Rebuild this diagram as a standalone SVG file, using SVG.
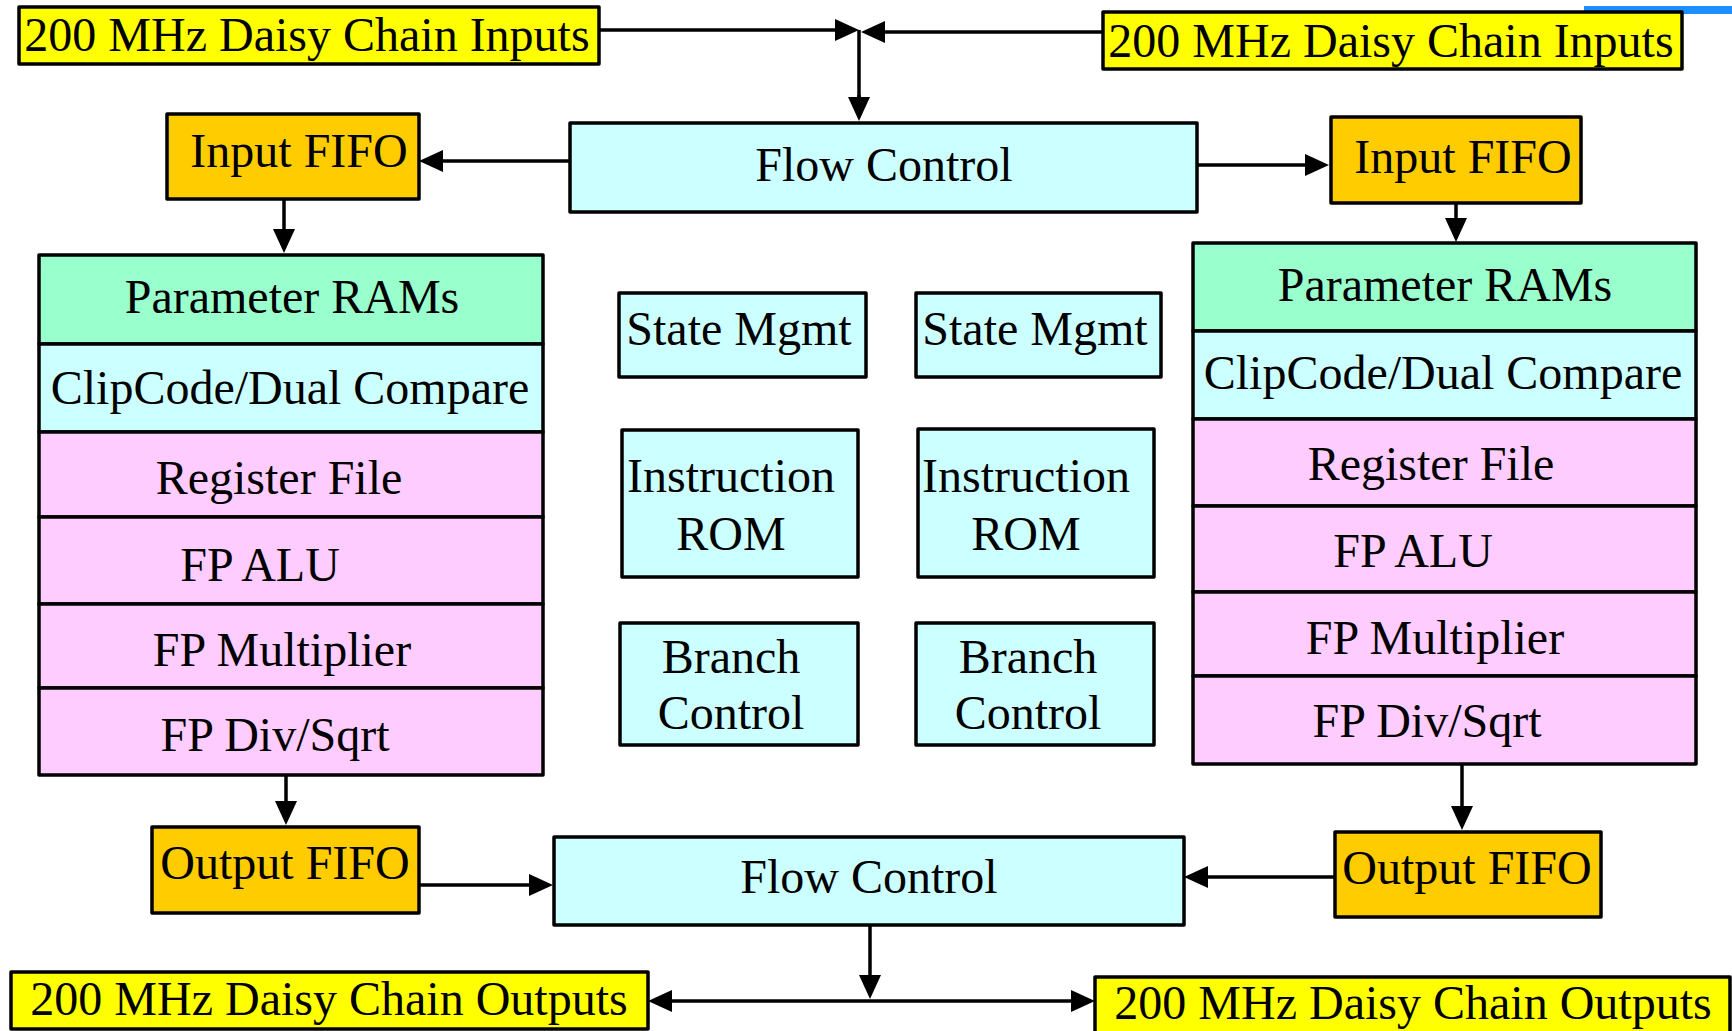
<svg xmlns="http://www.w3.org/2000/svg" width="1732" height="1031" viewBox="0 0 1732 1031">
<style>
  .box { stroke: #000; stroke-width: 3.5; stroke-linejoin: round; }
  .yellow { fill: #FFFF00; }
  .orange { fill: #FFCC00; }
  .cyan { fill: #CCFFFF; }
  .green { fill: #99FFCC; }
  .pink { fill: #FFCCFF; }
  text { font-family: "Liberation Serif", "Times New Roman", serif; font-size: 48px; fill: #000; text-anchor: middle; }
  .conn line { stroke: #000; stroke-width: 3.5; marker-end: url(#arrow); }
  .conn line.plain { marker-end: none; }
</style>
<defs>
  <marker id="arrow" viewBox="0 0 24 22" refX="20" refY="11" markerWidth="24" markerHeight="22" markerUnits="userSpaceOnUse" orient="auto">
    <path d="M0,0 L24,11 L0,22 Z" fill="#000"/>
  </marker>
</defs>
<rect width="1732" height="1031" fill="#fff"/>
<rect id="blue-strip" x="1584" y="6" width="148" height="8" fill="#1E8FFF"/>

<g id="in_left"><rect class="box yellow" x="19" y="7" width="580" height="57"/><text x="307" y="51">200 MHz Daisy Chain Inputs</text></g>
<g id="in_right"><rect class="box yellow" x="1103" y="12" width="579" height="57"/><text x="1391" y="57">200 MHz Daisy Chain Inputs</text></g>

<g id="flow_top"><rect class="box cyan" x="570" y="123" width="627" height="89"/><text x="884" y="181">Flow Control</text></g>
<g id="ififo_left"><rect class="box orange" x="167" y="114" width="252" height="85"/><text x="299" y="167">Input FIFO</text></g>
<g id="ififo_right"><rect class="box orange" x="1331" y="117" width="250" height="86"/><text x="1463" y="173">Input FIFO</text></g>

<g id="stack_left">
  <rect class="box green" x="39" y="255" width="504" height="89"/><text x="292" y="313">Parameter RAMs</text>
  <rect class="box cyan" x="39" y="344" width="504" height="88"/><text x="290" y="404">ClipCode/Dual Compare</text>
  <rect class="box pink" x="39" y="432" width="504" height="85"/><text x="279" y="494">Register File</text>
  <rect class="box pink" x="39" y="517" width="504" height="87"/><text x="260" y="581">FP ALU</text>
  <rect class="box pink" x="39" y="604" width="504" height="84"/><text x="282" y="666">FP Multiplier</text>
  <rect class="box pink" x="39" y="688" width="504" height="87"/><text x="275" y="751">FP Div/Sqrt</text>
</g>
<g id="stack_right">
  <rect class="box green" x="1193" y="243" width="503" height="88"/><text x="1445" y="301">Parameter RAMs</text>
  <rect class="box cyan" x="1193" y="331" width="503" height="88"/><text x="1443" y="389">ClipCode/Dual Compare</text>
  <rect class="box pink" x="1193" y="419" width="503" height="87"/><text x="1431" y="480">Register File</text>
  <rect class="box pink" x="1193" y="506" width="503" height="86"/><text x="1413" y="567">FP ALU</text>
  <rect class="box pink" x="1193" y="592" width="503" height="84"/><text x="1435" y="654">FP Multiplier</text>
  <rect class="box pink" x="1193" y="676" width="503" height="88"/><text x="1427" y="737">FP Div/Sqrt</text>
</g>

<g id="state_mgmt_1"><rect class="box cyan" x="619" y="293" width="247" height="84"/><text x="739" y="345">State Mgmt</text></g>
<g id="state_mgmt_2"><rect class="box cyan" x="916" y="293" width="245" height="84"/><text x="1035" y="345">State Mgmt</text></g>
<g id="instr_rom_1"><rect class="box cyan" x="622" y="430" width="236" height="147"/><text x="731" y="492">Instruction</text><text x="731" y="550">ROM</text></g>
<g id="instr_rom_2"><rect class="box cyan" x="918" y="429" width="236" height="148"/><text x="1026" y="492">Instruction</text><text x="1026" y="550">ROM</text></g>
<g id="branch_1"><rect class="box cyan" x="620" y="623" width="238" height="122"/><text x="731" y="673">Branch</text><text x="731" y="729">Control</text></g>
<g id="branch_2"><rect class="box cyan" x="916" y="623" width="238" height="122"/><text x="1028" y="673">Branch</text><text x="1028" y="729">Control</text></g>

<g id="ofifo_left"><rect class="box orange" x="152" y="827" width="267" height="86"/><text x="285" y="879">Output FIFO</text></g>
<g id="ofifo_right"><rect class="box orange" x="1335" y="832" width="266" height="85"/><text x="1467" y="884">Output FIFO</text></g>
<g id="flow_bottom"><rect class="box cyan" x="554" y="837" width="630" height="88"/><text x="869" y="893">Flow Control</text></g>
<g id="out_left"><rect class="box yellow" x="11" y="972" width="637" height="57"/><text x="329" y="1015">200 MHz Daisy Chain Outputs</text></g>
<g id="out_right"><rect class="box yellow" x="1095" y="977" width="635" height="64"/><text x="1413" y="1019">200 MHz Daisy Chain Outputs</text></g>

<g id="connectors" class="conn">
  <line x1="599" y1="30" x2="855" y2="30"/>
  <line x1="1103" y1="32" x2="865" y2="32"/>
  <line class="plain" x1="859" y1="30" x2="859" y2="100"/>
  <line x1="859" y1="95" x2="859" y2="117"/>
  <line x1="570" y1="161" x2="423" y2="161"/>
  <line x1="1197" y1="165" x2="1325" y2="165"/>
  <line x1="284" y1="199" x2="284" y2="249"/>
  <line x1="1456" y1="203" x2="1456" y2="238"/>
  <line x1="286" y1="775" x2="286" y2="821"/>
  <line x1="1462" y1="764" x2="1462" y2="826"/>
  <line x1="418" y1="885" x2="549" y2="885"/>
  <line x1="1335" y1="877" x2="1188" y2="877"/>
  <line x1="870" y1="925" x2="870" y2="995"/>
  <line x1="870" y1="1001" x2="652" y2="1001"/>
  <line x1="870" y1="1001" x2="1091" y2="1001"/>
</g>
</svg>
